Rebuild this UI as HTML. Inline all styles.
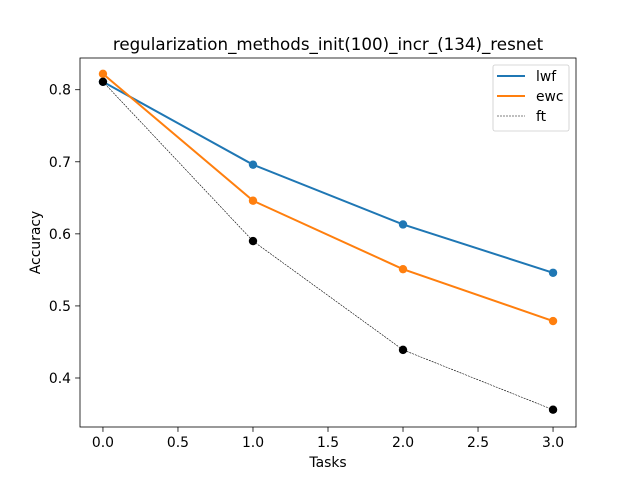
<!DOCTYPE html>
<html><head><meta charset="utf-8"><style>
body{margin:0;background:#fff}
svg text{font-family:"DejaVu Sans","Liberation Sans",sans-serif;fill:#000}
</style></head><body>
<svg id="chart" width="640" height="480" xmlns="http://www.w3.org/2000/svg">
<rect width="640" height="480" fill="#fff"/>
<g id="g"></g>
</svg>
<script>
const tasks=[0,1,2,3];
const lwf=[0.811,0.696,0.613,0.546];
const ewc=[0.822,0.646,0.551,0.479];
const ft=[0.811,0.590,0.439,0.356];
const xTicks=[0,0.5,1,1.5,2,2.5,3];
const xTickLabels=["0.0","0.5","1.0","1.5","2.0","2.5","3.0"];
const yTicks=[0.4,0.5,0.6,0.7,0.8];
const yTickLabels=["0.4","0.5","0.6","0.7","0.8"];
const L=80,R=576,T=58,B=427,xmin=-0.153,xmax=3.153,ymin=0.332,ymax=0.844;
const sx=v=>L+(v-xmin)/(xmax-xmin)*(R-L);
const sy=v=>B-(v-ymin)/(ymax-ymin)*(B-T);
const g=document.getElementById('g');
const NS="http://www.w3.org/2000/svg";
function mk(t,a,p){const e=document.createElementNS(NS,t);for(const k in a)e.setAttribute(k,a[k]);(p||g).appendChild(e);return e;}
xTicks.forEach((v,i)=>{
 const l=mk('line',{x1:sx(v),x2:sx(v),y1:B,y2:B+4.9,stroke:'#000','stroke-width':0.8});
 
 
 const t=mk('text',{x:sx(v),y:B+20,'text-anchor':'middle','font-size':13.9});
 t.textContent=xTickLabels[i];
 
 
});
yTicks.forEach((v,i)=>{
 const l=mk('line',{x1:L-4.9,x2:L,y1:sy(v),y2:sy(v),stroke:'#000','stroke-width':0.8});
 
 
 const t=mk('text',{x:L-9,y:sy(v)+5,'text-anchor':'end','font-size':13.9});
 t.textContent=yTickLabels[i];
 
 
});
function series(vals,color,w,dash,name){
 const p=mk('polyline',{points:tasks.map((x,i)=>sx(x)+','+sy(vals[i])).join(' '),fill:'none',stroke:color,'stroke-width':w,'stroke-dasharray':dash||'none'});
 
 
 tasks.forEach((x,i)=>{
  const c=mk('circle',{cx:sx(x),cy:sy(vals[i]),r:4.2,fill:color});
  
  
 });
}
series(lwf,'#1f77b4',2,null,'lwf');
series(ewc,'#ff7f0e',2,null,'ewc');
series(ft,'#000',0.6,'2,1','ft');
const fr=mk('rect',{x:L,y:T,width:R-L,height:B-T,fill:'none',stroke:'#000','stroke-width':0.8});


const ti=mk('text',{x:(L+R)/2,y:T-8,'text-anchor':'middle','font-size':16.7});
ti.textContent='regularization_methods_init(100)_incr_(134)_resnet';


const xl=mk('text',{x:(L+R)/2,y:467,'text-anchor':'middle','font-size':13.9});
xl.textContent='Tasks';


const yl=mk('text',{x:0,y:0,'text-anchor':'middle','font-size':13.9,transform:'translate(40,'+((T+B)/2)+') rotate(-90)'});
yl.textContent='Accuracy';


const lg=mk('g',{});


mk('rect',{x:493,y:65,width:76,height:66,rx:2,fill:'#fff','fill-opacity':0.8,stroke:'#ccc','stroke-width':0.8},lg);
const items=[['lwf','#1f77b4',2,null],['ewc','#ff7f0e',2,null],['ft','#000',0.6,'2,1']];
items.forEach((it,i)=>{
 const y=76+i*20;
 const l=mk('line',{x1:497,x2:525,y1:y,y2:y,stroke:it[1],'stroke-width':it[2],'stroke-dasharray':it[3]||'none'},lg);
 
 
 const t=mk('text',{x:536,y:y+5,'font-size':13.9},lg);
 t.textContent=it[0];
 
 
});
</script>
</body></html>
